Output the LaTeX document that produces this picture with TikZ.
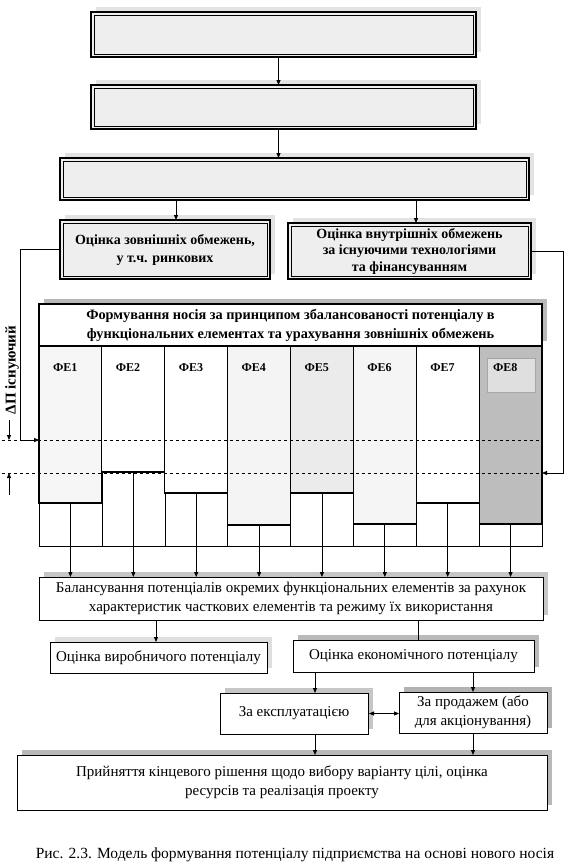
\documentclass[tikz,border=0pt]{standalone}
\usepackage{fontspec}
\setmainfont{Liberation Serif}
\usetikzlibrary{arrows.meta,shadows,calc}
\begin{document}
\begin{tikzpicture}[x=1pt,y=-1pt,
  every node/.style={outer sep=0pt, inner sep=1pt, align=center},
  txt/.style={font=\fontsize{15}{19}\selectfont},
  btxt/.style={font=\fontsize{14}{18}\selectfont\bfseries},
  shd/.style={general shadow={fill=gray!#1, shadow xshift=5pt, shadow yshift=5pt}},
  dbox/.style={draw=black, line width=1.3pt, fill=gray!13, anchor=north west, btxt, shd=22},
  inln/.style={line width=0.5pt},
  pbox/.style={draw, line width=1pt, fill=white, anchor=north west, txt},
  arr/.style={line width=0.8pt, -{Triangle[length=5pt,width=4pt]}},
  darr/.style={line width=0.8pt, {Triangle[length=5pt,width=4pt]}-{Triangle[length=5pt,width=4pt]}},
  con/.style={line width=0.8pt},
  fe/.style={draw, line width=1.2pt, anchor=north west, minimum width=62.875pt},
  thinl/.style={line width=0.5pt},
  dashln/.style={line width=0.6pt, dashed},
]
\useasboundingbox (0,0) rectangle (571,868);
\fill[white] (0,0) rectangle (571,868);

% top boxes (text illegible in the reference)
\node[dbox, minimum width=385pt, minimum height=45pt] (b1) at (91,12) {};
\node[dbox, minimum width=385pt, minimum height=44pt] (b2) at (91,85) {};
\node[dbox, minimum width=469pt, minimum height=42pt] (b3) at (60,158) {};
\node[dbox, minimum width=210pt, minimum height=59pt] (b4) at (60,220) {Оцінка зовнішніх обмежень,\\у т.ч. ринкових};
\node[dbox, font=\fontsize{14}{16.5}\selectfont\bfseries, minimum width=243pt, minimum height=56pt] (b5) at (288,223) {Оцінка внутрішніх обмежень\\за існуючими технологіями\\та фінансуванням};
\foreach \b in {b1,b2,b3,b4,b5}
  \draw[inln] ([shift={(2.8,2.8)}]\b.north west) rectangle ([shift={(-2.8,-2.8)}]\b.south east);

\coordinate (a12) at ($(b1.south)+(-5,0)$);
\draw[arr] (a12) -- (a12 |- b2.north);
\draw[arr] (a12 |- b2.south) -- (a12 |- b3.north);
\coordinate (a4) at ($(b4.north)+(11,0)$);
\coordinate (a5) at ($(b5.north)+(6.5,0)$);
\draw[arr] (a4 |- b3.south) -- (a4);
\draw[arr] (a5 |- b3.south) -- (a5);

% title of the carrier block
\node[pbox, btxt, font=\fontsize{14.3}{19}\selectfont\bfseries, line width=1.3pt, shd=55, minimum width=503pt, minimum height=42pt] (tt) at (39,304)
  {Формування носія за принципом збалансованості потенціалу в\\функціональних елементах та урахування зовнішніх обмежень};

% lower thin grid
\draw[thinl] (39,346) rectangle (542,546);
\foreach \k in {1,...,7} \draw[thinl] ({39+62.875*\k},346) -- ({39+62.875*\k},546);

% functional element columns
\foreach \i/\h/\f in {1/157/gray!7, 2/126/white, 3/147/white, 4/179/gray!9,
                      5/147/gray!16, 6/178/gray!8, 7/157/white, 8/178/gray!52}
  \node[fe, fill=\f, minimum height=\h pt] (fe\i) at ({39+62.875*(\i-1)},346) {};
\node[draw=gray!70, line width=1pt, fill=gray!25, anchor=north west, minimum width=48pt, minimum height=34pt] (fe8in) at (487,358) {};

% dashed levels
\coordinate (dl1) at (2,440);
\coordinate (dl2) at (2,473);
\draw[dashln] (dl1) -- (dl1 -| fe8.east);
\draw[dashln] (dl2) -- (dl2 -| fe8.east);

\foreach \i in {1,...,8}
  \node[anchor=west, font=\fontsize{12}{14}\selectfont\bfseries] (l\i) at ({39+62.875*(\i-1)+13},368) {ФЕ\i};

% side connectors
\coordinate (lx) at (20,440);
\draw[arr] (b4.west) -| (lx) -- (lx -| fe1.west);
\coordinate (rx) at (563,473);
\draw[arr] (b5.east) -| (rx) -- (rx -| fe8.east);

% Delta P label
\node[font=\fontsize{15}{18}\selectfont\bfseries, rotate=90] (dp) at (12,370) {ΔП існуючий};
\coordinate (d1) at (9,420);
\coordinate (d2) at (9,440);
\coordinate (u1) at (9,495);
\coordinate (u2) at (9,473);
\draw[arr] (d1) -- (d2);
\draw[arr] (u1) -- (u2);

% balancing box
\node[pbox, shd=45, minimum width=504pt, minimum height=43pt] (bal) at (39,577)
  {Балансування потенціалів окремих функціональних елементів за рахунок\\характеристик часткових елементів та режиму їх використання};
\foreach \i in {1,...,8} \draw[arr] (fe\i.south) -- (fe\i.south |- bal.north);

% evaluations
\node[pbox, shd=25, minimum width=217pt, minimum height=31pt] (vyr) at (50,642) {Оцінка виробничого потенціалу};
\node[pbox, shd=55, minimum width=241pt, minimum height=32pt] (eco) at (293,640) {Оцінка економічного потенціалу};
\coordinate (av) at ($(vyr.north)+(-2.5,0)$);
\draw[arr] (av |- bal.south) -- (av);
\coordinate (ae) at ($(eco.north)+(4.5,0)$);
\draw[con] (ae |- bal.south) -- (ae);

\node[pbox, shd=45, minimum width=148pt, minimum height=41pt] (eks) at (220,693) {За експлуатацією};
\node[pbox, shd=60, minimum width=148pt, minimum height=41pt] (prod) at (399,692) {За продажем (або\\для акціонування)};
\coordinate (e1) at (315,0);
\draw[arr] (e1 |- eco.south) -- (e1 |- eks.north);
\draw[arr] (prod.north |- eco.south) -- (prod.north);
\draw[darr] ($(eks.east)+(1,0)$) -- (eks.east -| prod.west);

\node[pbox, shd=55, minimum width=530pt, minimum height=55pt] (fin) at (17,755)
  {Прийняття кінцевого рішення щодо вибору варіанту цілі, оцінка\\ресурсів та реалізація проекту};
\draw[arr] (e1 |- eks.south) -- (e1 |- fin.north);
\draw[arr] (prod.south) -- (prod.south |- fin.north);

% caption
\node[font=\fontsize{15.5}{18}\selectfont] (cap) at (295,855) {Рис. 2.3. Модель формування потенціалу підприємства на основі нового носія};
\end{tikzpicture}
\end{document}
